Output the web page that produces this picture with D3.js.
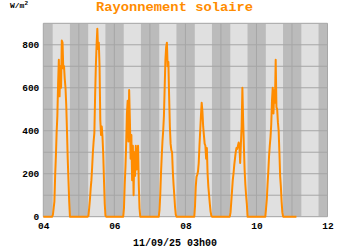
<!DOCTYPE html>
<html><head><meta charset="utf-8">
<script src="https://cdn.jsdelivr.net/npm/d3@7"></script>
<style>body{margin:0;background:#fff}svg{display:block}</style>
</head><body><svg id="c" width="350" height="250"></svg>
<script>
// ---- data ----
const title = "Rayonnement solaire";
const unitLabel = "W/m";
const xTitle = "11/09/25 03h00";
const yTicks = [0, 200, 400, 600, 800];
const xTickDays = ["2025-09-04", "2025-09-06", "2025-09-08", "2025-09-10", "2025-09-12"];
const bandDays = ["2025-09-04","2025-09-05","2025-09-06","2025-09-07","2025-09-08","2025-09-09","2025-09-10","2025-09-11"];
const sunrise = 6.33, sunset = 17.95; // hours (day band)
const days = ["2025-09-04","2025-09-05","2025-09-06","2025-09-07","2025-09-08","2025-09-09","2025-09-10"];
const hours = [5.5,6,6.5,7,7.5,8,8.5,9,9.5,10,10.5,11,11.5,12,12.5,13,13.5,14,14.5,15,15.5,16,16.5,17,17.5,18,18.5];
const rad04 = [0,0,10,40,70,190,280,390,470,620,730,560,700,600,820,810,690,700,640,600,520,400,270,170,70,0,0];
const rad05 = [0,0,5,40,80,130,170,230,300,350,390,560,700,800,875,780,810,700,450,380,420,370,290,170,60,5,0];
const rad06 = [0,0,40,150,230,340,480,540,350,590,450,270,380,170,330,100,300,190,330,220,260,330,150,40,0,0,0];
const rad07 = [0,0,30,100,200,280,350,400,470,600,730,790,810,700,720,560,420,340,310,300,210,150,100,45,10,0,0];
const rad08 = [0,0,50,140,185,195,210,250,330,400,470,530,490,420,380,340,330,270,320,200,140,100,60,25,5,0,0];
const rad09 = [0,0,20,70,120,170,200,240,270,300,320,315,330,345,330,250,340,420,600,450,330,220,150,100,60,0,0];
const rad10 = [0,0,40,80,150,210,280,330,370,430,540,600,480,590,530,730,510,500,440,400,300,190,140,70,20,0,0];
const series = [rad04, rad05, rad06, rad07, rad08, rad09, rad10];
const dataStart = "2025-09-04T00:00:00Z", dataEnd = "2025-09-11T03:00:00Z";

// ---- build ----
const svg = d3.select("#c");
const W = 350, H = 250;
const m = {l: 43.3, r: 350 - 327.5, t: 23.3, b: 250 - 216.7};
const x = d3.scaleUtc().domain([new Date("2025-09-04T00:00:00Z"), new Date("2025-09-12T00:00:00Z")]).range([m.l, W - m.r]);
const y = d3.scaleLinear().domain([0, 900]).range([H - m.b, m.t]);
const hr = (d, h) => new Date(new Date(d + "T00:00:00Z").getTime() + h * 3600e3);

const pts = [{t: new Date(dataStart), v: 0}];
days.forEach((d, i) => hours.forEach((h, j) => pts.push({t: hr(d, h), v: series[i][j]})));
pts.push({t: new Date(dataEnd), v: 0});

// background: night (dark) and day (light)
svg.append("rect").attr("x", x.range()[0]).attr("y", y(900)).attr("width", x.range()[1] - x.range()[0]).attr("height", y(0) - y(900)).attr("fill", "#bbbbbb");
svg.append("g").selectAll("rect").data(bandDays).join("rect")
  .attr("x", d => x(hr(d, sunrise))).attr("width", d => x(hr(d, sunset)) - x(hr(d, sunrise)))
  .attr("y", y(900)).attr("height", y(0) - y(900)).attr("fill", "#e0e0e0");

// grid
svg.append("g").selectAll("line").data(d3.range(0, 901, 100)).join("line")
  .attr("x1", x.range()[0]).attr("x2", x.range()[1]).attr("y1", d => y(d)).attr("y2", d => y(d))
  .attr("stroke", "#a6a6a6").attr("stroke-width", 1);
svg.append("g").selectAll("line").data(x.ticks(d3.utcDay.every(1))).join("line")
  .attr("x1", d => x(d)).attr("x2", d => x(d)).attr("y1", y(0)).attr("y2", y(900))
  .attr("stroke", "#a6a6a6").attr("stroke-width", 1);

// line
svg.append("path").datum(pts)
  .attr("d", d3.line().x(d => x(d.t)).y(d => y(d.v)))
  .attr("fill", "none").attr("stroke", "#ff8c00").attr("stroke-width", 2).attr("stroke-linejoin", "round");

// axes
const font = "'Liberation Mono', 'DejaVu Sans Mono', monospace";
const yAxis = d3.axisLeft(y).tickValues(yTicks).tickSize(0).tickPadding(4);
const gy = svg.append("g").attr("transform", `translate(${m.l},0)`).call(yAxis);
gy.select(".domain").remove();
gy.selectAll("text").attr("font-family", font).attr("font-weight", "bold").attr("font-size", "9.5px").attr("fill", "#000");

const xAxis = d3.axisBottom(x).tickValues(xTickDays.map(d => new Date(d + "T00:00:00Z"))).tickFormat(d3.utcFormat("%d")).tickSize(0).tickPadding(6);
const gx = svg.append("g").attr("transform", `translate(0,${H - m.b})`).call(xAxis);
gx.select(".domain").remove();
gx.selectAll("text").attr("font-family", font).attr("font-weight", "bold").attr("font-size", "9.5px").attr("fill", "#000");

// titles
svg.append("text").attr("x", 96).attr("y", 11).attr("textLength", 157).attr("lengthAdjust", "spacingAndGlyphs")
  .attr("font-family", font).attr("font-weight", "bold").attr("font-size", "13px").attr("fill", "#ff8c00").text(title);
const u = svg.append("text").attr("x", 10).attr("y", 8).attr("font-family", font).attr("font-weight", "bold").attr("font-size", "8px").attr("fill", "#000");
u.append("tspan").text(unitLabel);
u.append("tspan").attr("dy", -3).attr("font-size", "6px").text("2");
svg.append("text").attr("x", 175).attr("y", 246).attr("text-anchor", "middle")
  .attr("font-family", font).attr("font-weight", "bold").attr("font-size", "10px").attr("fill", "#000").text(xTitle);
</script></body></html>
